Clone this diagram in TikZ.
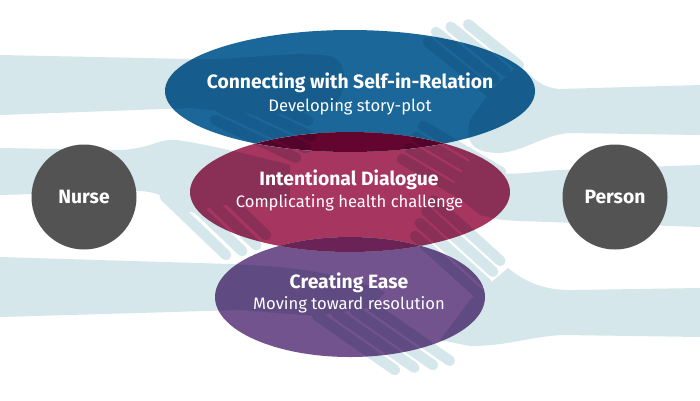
\documentclass[tikz,border=0pt]{standalone}
\usepackage{fontspec}
\setmainfont{Fira Sans}
\definecolor{handc}{HTML}{D5E7EB}
\definecolor{blueE}{HTML}{1B6799}
\definecolor{pinkE}{HTML}{A6355F}
\definecolor{purpE}{HTML}{72538D}
\definecolor{bpOv}{HTML}{640530}
\definecolor{ppOv}{HTML}{6A2257}
\definecolor{circC}{HTML}{535353}
\tikzset{
  fingerline/.style={draw=handc, line width=10.5pt, line cap=round},
  titleT/.style={text=white, anchor=base, inner sep=0pt, font=\fontsize{19.3}{23}\selectfont\bfseries},
  subT/.style={text=white, anchor=base, inner sep=0pt, font=\fontsize{16.6}{20}\selectfont},
  person/.style={circle, fill=circC, minimum size=105pt, inner sep=0pt, text=white, font=\fontsize{19.3}{23}\selectfont\bfseries}
}
\newcommand\drawHandShapes{%
  % hand A (top left)
  \fill[handc] (0,55) -- (190,59) .. controls (240,61) and (290,50) .. (330,56) .. controls (350,60) and (350,100) .. (325,110) -- (260,115) -- (190,108) -- (0,115) -- cycle;
  \foreach \xa/\ya/\xb/\yb in {215/120/296/157.8, 220.5/108.3/306/148.2, 226/96.6/311.5/136.5, 231.5/84.9/308/120.6}
    {\draw[fingerline] (\xa,\ya) -- (\xb,\yb);}
  % hand B (top right)
  \fill[handc] (700,85) -- (560,89) .. controls (540,88) and (530,75) .. (519,64) -- (490,92) -- (470,120) .. controls (465,140) and (470,153) .. (500,153) .. controls (525,151) and (545,134) .. (570,133) -- (700,135) -- cycle;
  \foreach \xa/\ya/\xb/\yb in {490.4/92.4/428/42, 494.5/79.2/436/32, 505.2/70.9/450.6/26.8, 518.9/65.3/468.2/24.3}
    {\draw[fingerline] (\xa,\ya) -- (\xb,\yb);}
  % hand C (middle left)
  \foreach \xa/\ya/\xb/\yb in {164.8/196.3/226/255, 181/192.4/242.2/251.1, 195/186.5/256.2/245.2, 204.7/176.3/265.9/235}
    {\draw[fingerline] (\xa,\ya) -- (\xb,\yb);}
  \fill[handc] (0,148) -- (120,150) .. controls (150,149) and (160,138) .. (176,140) .. controls (195,142) and (240,152) .. (290,165) -- (290,200) -- (232,204) -- (212,207) -- (196,213) -- (184,211) .. controls (172,200) and (160,192) .. (140,191) -- (0,195) -- cycle;
  % hand D (middle right)
  \fill[handc] (700,165) -- (560,170) .. controls (530,172) and (510,176) .. (495,172) -- (470,160) -- (450,190) -- (480,215) .. controls (500,220) .. (520,221) -- (700,227) -- cycle;
  \foreach \xa/\ya/\xb/\yb in {480/205/402/159, 487/194/409/148, 494/183/416/137, 501/172/423/126}
    {\draw[fingerline] (\xa,\ya) -- (\xb,\yb);}
  % hand E (bottom left)
  \fill[handc] (0,257) -- (230,264) .. controls (270,266) and (330,268) .. (385,292) -- (372,307) -- (317,316) -- (240,310) -- (0,317) -- cycle;
  \foreach \xa/\ya/\xb/\yb in {317.1/315.8/395/370, 336.4/313.4/414.3/367.6, 355/310.8/432.9/365, 371.9/306.6/449.8/360.8}
    {\draw[fingerline] (\xa,\ya) -- (\xb,\yb);}
  % hand F (bottom right)
  \fill[handc] (700,288) -- (575,290) .. controls (545,291) and (525,282) .. (508,268) -- (470,300) -- (440,340) -- (470,346) .. controls (510,346) and (530,336) .. (565,335) -- (700,337) -- cycle;
  \foreach \xa/\ya/\xb/\yb in {481.6/296.3/415/236, 486.6/283.3/420/223, 493.1/271.7/426.5/211.4, 500.3/260.8/433.7/200.5}
    {\draw[fingerline] (\xa,\ya) -- (\xb,\yb);}
}
\begin{document}
\begin{tikzpicture}[x=1pt,y=-1pt]
\useasboundingbox[fill=white] (0,0) rectangle (700,400);
\drawHandShapes
% ellipses, multiplied over the hands
\fill[blueE, blend mode=multiply] (350,91) ellipse [x radius=185pt, y radius=61pt];
\fill[pinkE, blend mode=multiply] (350,192) ellipse [x radius=160pt, y radius=60pt];
\fill[purpE, blend mode=multiply] (350,297) ellipse [x radius=135pt, y radius=60pt];
% overlap blue / pink
\begin{scope}
  \clip (350,91) ellipse [x radius=185pt, y radius=61pt];
  \clip (350,192) ellipse [x radius=160pt, y radius=60pt];
  \fill[white] (0,0) rectangle (700,400);
  \drawHandShapes
  \fill[bpOv, blend mode=multiply] (0,0) rectangle (700,400);
\end{scope}
% overlap pink / purple
\begin{scope}
  \clip (350,192) ellipse [x radius=160pt, y radius=60pt];
  \clip (350,297) ellipse [x radius=135pt, y radius=60pt];
  \fill[white] (0,0) rectangle (700,400);
  \drawHandShapes
  \fill[ppOv, blend mode=multiply] (0,0) rectangle (700,400);
\end{scope}
% circles
\node[person] (nurse) at (84,197) {Nurse};
\node[person] (person) at (615,197) {Person};
% texts
\node[titleT] (t1) at (350,88) {Connecting with Self-in-Relation};
\node[subT] (s1) at (350,111) {Developing story-plot};
\node[titleT] (t2) at (349,185) {Intentional Dialogue};
\node[subT] (s2) at (349.5,207.5) {Complicating health challenge};
\node[titleT] (t3) at (349,288) {Creating Ease};
\node[subT] (s3) at (349,309) {Moving toward resolution};
\end{tikzpicture}
\end{document}
